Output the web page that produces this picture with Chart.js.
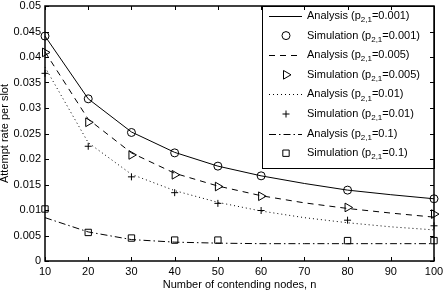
<!DOCTYPE html>
<html lang="en">
<head>
    <meta charset="UTF-8">
    <title>Attempt rate per slot</title>
    <script src="https://cdn.jsdelivr.net/npm/chart.js"></script>
    <style>
        html, body { margin: 0; padding: 0; background: #fff; }
        #chart-box { width: 446px; height: 294px; }
    </style>
</head>
<body>
    <div id="chart-box">
        <canvas id="rate-chart" width="446" height="294"></canvas>
    </div>

    <script>
        // x values
        const nodes = [10, 20, 30, 40, 50, 60, 70, 80, 90, 100];
        const simNodes = [10, 20, 30, 40, 50, 60, 80, 100];

        // analysis curves
        const anaP001 = [0.0441, 0.0318, 0.0253, 0.0213, 0.0186, 0.0167, 0.0152, 0.0139, 0.0130, 0.0122];
        const anaP005 = [0.0410, 0.0278, 0.0212, 0.0172, 0.0147, 0.0128, 0.0114, 0.0103, 0.0094, 0.0086];
        const anaP01  = [0.0380, 0.0232, 0.0170, 0.0138, 0.0115, 0.0098, 0.0085, 0.0075, 0.0067, 0.0061];
        const anaP1   = [0.0085, 0.0057, 0.0042, 0.0037, 0.0035, 0.0034, 0.0034, 0.0034, 0.0034, 0.0034];

        // simulation points
        const simP001 = [0.0441, 0.0318, 0.0252, 0.0212, 0.0186, 0.0167, 0.0139, 0.0122];
        const simP005 = [0.0409, 0.0272, 0.0208, 0.0169, 0.0146, 0.0127, 0.0105, 0.0092];
        const simP01  = [0.0368, 0.0225, 0.0165, 0.0134, 0.0113, 0.0099, 0.0080, 0.0069];
        const simP1   = [0.0102, 0.0056, 0.0045, 0.0041, 0.0041, null, 0.0040, 0.0040];

        const pValues = ['0.001', '0.005', '0.01', '0.1'];
        const xTitle = 'Number of contending nodes, n';
        const yTitle = 'Attempt rate per slot';

        const FONT = '"Liberation Sans", Arial, sans-serif';

        function pairs(xs, ys) {
            return xs.map((x, i) => ({ x: x, y: ys[i] }));
        }

        function analysisSet(ys, p, dash) {
            return {
                label: 'Analysis', p: p,
                data: pairs(nodes, ys),
                borderColor: '#000', borderWidth: 1, borderDash: dash,
                pointRadius: 0, showLine: true, tension: 0, clip: false
            };
        }

        function simSet(ys, p, style, radius, rotation) {
            return {
                label: 'Simulation', p: p,
                data: pairs(simNodes, ys),
                showLine: false,
                pointStyle: style, pointRadius: radius, pointRotation: rotation || 0,
                pointBorderColor: '#000', pointBackgroundColor: '#fff', pointBorderWidth: 1,
                pointHoverRadius: radius, clip: false
            };
        }

        const datasets = [
            analysisSet(anaP001, pValues[0], []),
            simSet(simP001, pValues[0], 'circle', 4),
            analysisSet(anaP005, pValues[1], [6, 5]),
            simSet(simP005, pValues[1], 'triangle', 5, 90),
            analysisSet(anaP01, pValues[2], [1, 3]),
            simSet(simP01, pValues[2], 'cross', 3.5),
            analysisSet(anaP1, pValues[3], [7, 3, 1.5, 3]),
            simSet(simP1, pValues[3], 'rect', 4.5)
        ];

        // box, inward ticks and the legend with subscripts
        const framePlugin = {
            id: 'frame',
            afterDatasetsDraw(chart) {
                const ctx = chart.ctx;
                const a = chart.chartArea;
                const xs = chart.scales.x, ys = chart.scales.y;

                // legend
                const lx = 262, ly = a.top, lw = a.right - 262, lh = 162;
                ctx.save();
                ctx.fillStyle = '#fff';
                ctx.fillRect(lx, ly, lw, lh);
                ctx.strokeStyle = '#000';
                ctx.lineWidth = 1;
                ctx.strokeRect(lx + 0.5, ly + 0.5, lw, lh);
                chart.data.datasets.forEach((ds, i) => {
                    const y = ly + 10 + i * 19.6;
                    if (ds.showLine) {
                        ctx.save();
                        ctx.strokeStyle = '#000';
                        ctx.lineWidth = 1;
                        ctx.setLineDash(ds.borderDash);
                        ctx.beginPath();
                        ctx.moveTo(269, Math.round(y) + 0.5);
                        ctx.lineTo(302, Math.round(y) + 0.5);
                        ctx.stroke();
                        ctx.restore();
                    } else {
                        ctx.save();
                        ctx.strokeStyle = '#000';
                        ctx.fillStyle = '#fff';
                        ctx.lineWidth = 1;
                        Chart.helpers.drawPoint(ctx, {
                            pointStyle: ds.pointStyle, radius: ds.pointRadius,
                            rotation: ds.pointRotation, borderWidth: 1
                        }, 286, y);
                        ctx.restore();
                    }
                    ctx.fillStyle = '#000';
                    ctx.textBaseline = 'middle';
                    ctx.textAlign = 'left';
                    ctx.font = '11px ' + FONT;
                    let tx = 307;
                    const head = ds.label + ' (p';
                    ctx.fillText(head, tx, y);
                    tx += ctx.measureText(head).width;
                    ctx.font = '8px ' + FONT;
                    ctx.fillText('2,1', tx, y + 4);
                    tx += ctx.measureText('2,1').width;
                    ctx.font = '11px ' + FONT;
                    ctx.fillText('=' + ds.p + ')', tx, y);
                });
                ctx.restore();

                // frame
                ctx.save();
                ctx.strokeStyle = '#000';
                ctx.lineWidth = 1.5;
                ctx.strokeRect(a.left, a.top, a.right - a.left, a.bottom - a.top);
                ctx.lineWidth = 1;
                ctx.beginPath();
                xs.ticks.forEach(t => {
                    const px = Math.round(xs.getPixelForValue(t.value)) + 0.5;
                    ctx.moveTo(px, a.bottom); ctx.lineTo(px, a.bottom - 4);
                    ctx.moveTo(px, a.top); ctx.lineTo(px, a.top + 4);
                });
                ys.ticks.forEach(t => {
                    const py = Math.round(ys.getPixelForValue(t.value)) + 0.5;
                    ctx.moveTo(a.left, py); ctx.lineTo(a.left + 4, py);
                    ctx.moveTo(a.right, py); ctx.lineTo(a.right - 4, py);
                });
                ctx.stroke();
                ctx.restore();
            }
        };

        const ctx = document.getElementById('rate-chart').getContext('2d');
        new Chart(ctx, {
            type: 'scatter',
            data: { datasets: datasets },
            options: {
                responsive: false,
                animation: false,
                devicePixelRatio: 1,
                layout: { padding: { top: 6, right: 12, left: 0, bottom: 0 } },
                plugins: {
                    legend: { display: false },
                    tooltip: { enabled: false }
                },
                scales: {
                    x: {
                        type: 'linear', min: 10, max: 100,
                        grid: { display: false, drawTicks: false },
                        border: { display: false },
                        ticks: { stepSize: 10, padding: 4, color: '#000', font: { family: FONT, size: 11 } },
                        title: { display: true, text: xTitle, color: '#000', padding: { top: 0, bottom: 2 }, font: { family: FONT, size: 11 } },
                        afterFit(scale) { scale.height = 33; scale.paddingLeft = 0; scale.paddingRight = 0; }
                    },
                    y: {
                        type: 'linear', min: 0, max: 0.05,
                        grid: { display: false, drawTicks: false },
                        border: { display: false },
                        ticks: {
                            stepSize: 0.005, padding: 4, color: '#000',
                            font: { family: FONT, size: 11 },
                            callback: v => String(+v.toFixed(3))
                        },
                        title: { display: true, text: yTitle, color: '#000', padding: { top: -2, bottom: 0 }, font: { family: FONT, size: 11 } },
                        afterFit(scale) { scale.width = 45; scale.paddingTop = 0; scale.paddingBottom = 0; }
                    }
                }
            },
            plugins: [framePlugin]
        });
    </script>
</body>
</html>
